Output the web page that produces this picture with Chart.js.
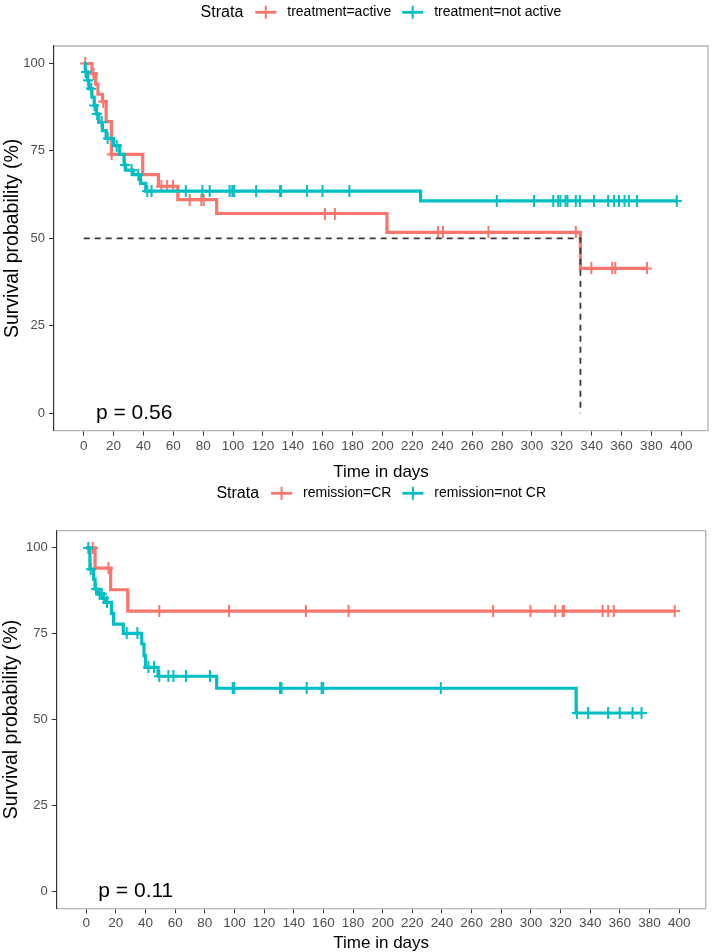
<!DOCTYPE html>
<html><head><meta charset="utf-8">
<script src="https://cdn.jsdelivr.net/npm/chart.js@4.4.1/dist/chart.umd.min.js"></script>
<style>html,body{margin:0;padding:0;background:#fff;}canvas{display:block;}</style>
</head><body>
<canvas id="c1" width="714" height="481"></canvas>
<canvas id="c2" width="714" height="471"></canvas>
<script>
// ---------------- data ----------------
const xTickValues = [0,20,40,60,80,100,120,140,160,180,200,220,240,260,280,300,320,340,360,380,400];
const yTickValues = [0,25,50,75,100];
const strataTitle = 'Strata';
const xTitle = 'Time in days';
const yTitle = 'Survival probability (%)';

// Plot 1: treatment
const p1Labels = ['treatment=active','treatment=not active'];
const p1ActiveTimes  = [0, 5.5, 8, 9.5, 12.5, 15, 18.5, 39.5, 50, 63, 89, 203, 332.5, 377];
const p1ActiveSurv   = [100, 97.1, 94.1, 91.2, 89.1, 83.4, 74.0, 68.2, 64.9, 61.1, 57.1, 51.7, 41.4, 41.4];
const p1ActiveCensor = [1, 6.5, 13, 18.7, 52, 55.8, 59.8, 70.9, 78.7, 80.3, 161.4, 168.1, 237.1, 240.5, 270.9, 329.4, 339.8, 353.8, 355.8, 377];
const p1NotActiveTimes  = [0, 1, 2.5, 3.5, 5.5, 7, 8.5, 10, 12.5, 15, 20, 24, 27, 28, 33, 38, 41.5, 225.5, 397];
const p1NotActiveSurv   = [100, 97.6, 95.2, 92.8, 90.4, 88.0, 85.6, 83.2, 80.8, 78.6, 76.5, 74.0, 71.0, 69.5, 68.2, 65.7, 63.5, 60.7, 60.7];
const p1NotActiveCensor = [1.2, 3, 5, 7.2, 9, 12, 16, 22, 27.5, 32, 36.5, 42.5, 45.4, 68.3, 79.4, 84.3, 97.6, 99.4, 100.7, 115.4, 131.4, 132.1, 149.4, 159.8, 177.8, 276.5, 301.4, 314.3, 317.6, 319.1, 322.5, 323.8, 329.4, 332.1, 341.6, 351, 355, 358.3, 362, 364.9, 370.3, 397];
const p1PValue = 'p = 0.56';

// Plot 2: remission
const p2Labels = ['remission=CR','remission=not CR'];
const p2CRTimes  = [0, 6, 16.5, 28, 397];
const p2CRSurv   = [100, 94.1, 87.8, 81.6, 81.6];
const p2CRCensor = [4.5, 15, 49.3, 96.3, 148.2, 176.9, 274.5, 299.7, 316.4, 321.4, 322.2, 348.3, 352.1, 355.9, 397];
const p2NotCRTimes  = [0, 2.5, 5, 6, 8, 11, 13, 17, 18.5, 25, 37.5, 39, 40, 48.5, 88, 330.5, 375];
const p2NotCRSurv   = [100, 93.8, 90.9, 88.0, 86.5, 85.3, 84.1, 80.9, 77.8, 75.1, 72.0, 68.6, 65.2, 62.6, 59.1, 51.9, 51.9];
const p2NotCRCensor = [1.4, 3, 6.6, 9, 10.5, 12, 14, 27.3, 34.5, 41.9, 45.7, 49.3, 55.4, 58.8, 67.3, 83.5, 98.8, 99.8, 130.7, 131.7, 148.7, 158.8, 159.9, 239.2, 331, 338.6, 352, 359.9, 368.5, 374.6];
const p2PValue = 'p = 0.11';

// ---------------- style ----------------
const RED = '#F8766D', TEAL = '#00BFC4';
const FONT = '"Liberation Sans", Arial, Helvetica, sans-serif';

function stepPoints(times, surv){ return times.map((t,i)=>({x:t, y:surv[i]})); }
function survAt(times, surv, t){ let v = surv[0]; for(let i=0;i<times.length;i++){ if(times[i] <= t) v = surv[i]; else break; } return v; }
function censorPoints(times, surv, cens){ return cens.map(t=>({x:t, y:survAt(times, surv, t)})); }
function plusMark(color){
  const c=document.createElement('canvas'); c.width=10; c.height=12;
  const g=c.getContext('2d'); g.fillStyle=color;
  g.fillRect(0,5,10,2); g.fillRect(4,0,2,12); return c;
}

const framePlugin = {
  id:'frame',
  beforeDatasetsDraw(chart){
    const {ctx, chartArea:a} = chart;
    ctx.save(); ctx.strokeStyle='#b3b3b3'; ctx.lineWidth=1.3;
    ctx.beginPath(); ctx.moveTo(a.left, a.top); ctx.lineTo(a.right, a.top); ctx.lineTo(a.right, a.bottom); ctx.stroke();
    ctx.restore();
  }
};
const legendPlugin = {
  id:'strataLegend',
  afterDraw(chart, args, opts){
    const ctx = chart.ctx, a = chart.chartArea;
    ctx.save();
    const tf = '16px '+FONT, lf = '14px '+FONT;
    ctx.font = tf; const wt = ctx.measureText(opts.title).width;
    ctx.font = lf; const ws = opts.labels.map(l=>ctx.measureText(l).width);
    const symW=21, gTS=12, gSL=11, gLS=11;
    const total = wt + gTS + ws.reduce((p,q)=>p+q,0) + opts.labels.length*(symW+gSL) + (opts.labels.length-1)*gLS;
    let x = (a.left + a.right)/2 - total/2; const y = opts.y;
    ctx.textBaseline='middle'; ctx.textAlign='left'; ctx.fillStyle='#000';
    ctx.font = tf; ctx.fillText(opts.title, x, y); x += wt + gTS;
    opts.labels.forEach((l,i)=>{
      ctx.fillStyle = opts.colors[i];
      ctx.fillRect(x, y-1.4, symW, 2.8);
      ctx.fillRect(x+symW/2-1, y-6.5, 2, 13);
      x += symW + gSL;
      ctx.fillStyle='#000'; ctx.font = lf; ctx.fillText(l, x, y);
      x += ws[i] + gLS;
    });
    ctx.restore();
  }
};
const pPlugin = {
  id:'pval',
  afterDatasetsDraw(chart, args, opts){
    const ctx = chart.ctx;
    ctx.save(); ctx.font='21px '+FONT; ctx.fillStyle='#000'; ctx.textAlign='left'; ctx.textBaseline='middle';
    ctx.fillText(opts.text, chart.scales.x.getPixelForValue(opts.atX), chart.scales.y.getPixelForValue(opts.atY));
    ctx.restore();
  }
};

function makeChart(id, g){
  const datasets = [];
  if (g.median !== undefined) {
    datasets.push({ data:[{x:0,y:50},{x:g.median,y:50},{x:g.median,y:0}], borderColor:'#3a3a3a', borderWidth:1.8,
      borderDash:[6,5], pointRadius:0, fill:false, tension:0, order:0 });
  }
  datasets.push({ data:censorPoints(g.tTimes,g.tSurv,g.tCens), showLine:false, pointStyle:plusMark(TEAL), pointRadius:5, order:1 });
  datasets.push({ data:stepPoints(g.tTimes,g.tSurv), borderColor:TEAL, borderWidth:3.2, stepped:true, pointRadius:0, fill:false, order:2 });
  datasets.push({ data:censorPoints(g.rTimes,g.rSurv,g.rCens), showLine:false, pointStyle:plusMark(RED), pointRadius:5, order:3 });
  datasets.push({ data:stepPoints(g.rTimes,g.rSurv), borderColor:RED, borderWidth:3.2, stepped:true, pointRadius:0, fill:false, order:4 });

  return new Chart(document.getElementById(id), {
    type:'line',
    data:{ datasets },
    options:{
      responsive:false, animation:false, devicePixelRatio:1, events:[],
      layout:{ padding:{ top:g.padTop, right:g.padRight, bottom:0, left:0 } },
      plugins:{
        legend:{display:false}, tooltip:{enabled:false},
        strataLegend:{ title:strataTitle, labels:g.labels, colors:[RED,TEAL], y:12.3 },
        pval:{ text:g.p, atX:8.2, atY:0 }
      },
      scales:{
        x:{
          type:'linear', min:-19.9, max:417.9,
          afterBuildTicks:s=>{ s.ticks = xTickValues.map(v=>({value:v})); },
          afterFit:s=>{ s.height = g.xH; },
          ticks:{ autoSkip:false, maxRotation:0, padding:2, color:'#4D4D4D', font:{family:FONT, size:13.5}, callback:v=>String(v) },
          grid:{ display:true, drawOnChartArea:false, drawTicks:true, tickLength:5, tickColor:'#333', tickWidth:1 },
          border:{ display:true, color:'#b3b3b3', width:1.3 },
          title:{ display:true, text:xTitle, color:'#000', font:{family:FONT, size:17, lineHeight:1}, padding:{top:g.xTitlePad, bottom:0} }
        },
        y:{
          type:'linear', min:-5, max:105,
          afterBuildTicks:s=>{ s.ticks = yTickValues.map(v=>({value:v})); },
          afterFit:s=>{ s.width = g.yW; },
          ticks:{ padding:4, color:'#4D4D4D', font:{family:FONT, size:13}, callback:v=>String(v) },
          grid:{ display:true, drawOnChartArea:false, drawTicks:true, tickLength:5, tickColor:'#333', tickWidth:1 },
          border:{ display:true, color:'#333', width:1.2 },
          title:{ display:true, text:yTitle, color:'#000', font:{family:FONT, size:19.5, lineHeight:1}, padding:{top:g.yTitlePad, bottom:0} }
        }
      }
    },
    plugins:[framePlugin, legendPlugin, pPlugin]
  });
}

const medianTime = p1ActiveTimes[p1ActiveSurv.findIndex(s=>s<=50)];

makeChart('c1', {
  rTimes:p1ActiveTimes, rSurv:p1ActiveSurv, rCens:p1ActiveCensor,
  tTimes:p1NotActiveTimes, tSurv:p1NotActiveSurv, tCens:p1NotActiveCensor,
  labels:p1Labels, p:p1PValue, median:medianTime,
  padTop:46, padRight:1, xH:50.3, yW:54, xTitlePad:6.5, yTitlePad:3.3
});
makeChart('c2', {
  rTimes:p2CRTimes, rSurv:p2CRSurv, rCens:p2CRCensor,
  tTimes:p2NotCRTimes, tSurv:p2NotCRSurv, tCens:p2NotCRCensor,
  labels:p2Labels, p:p2PValue,
  padTop:49.7, padRight:8.3, xH:43.7, yW:56.7, xTitlePad:0.5, yTitlePad:2
});
</script>
</body></html>
